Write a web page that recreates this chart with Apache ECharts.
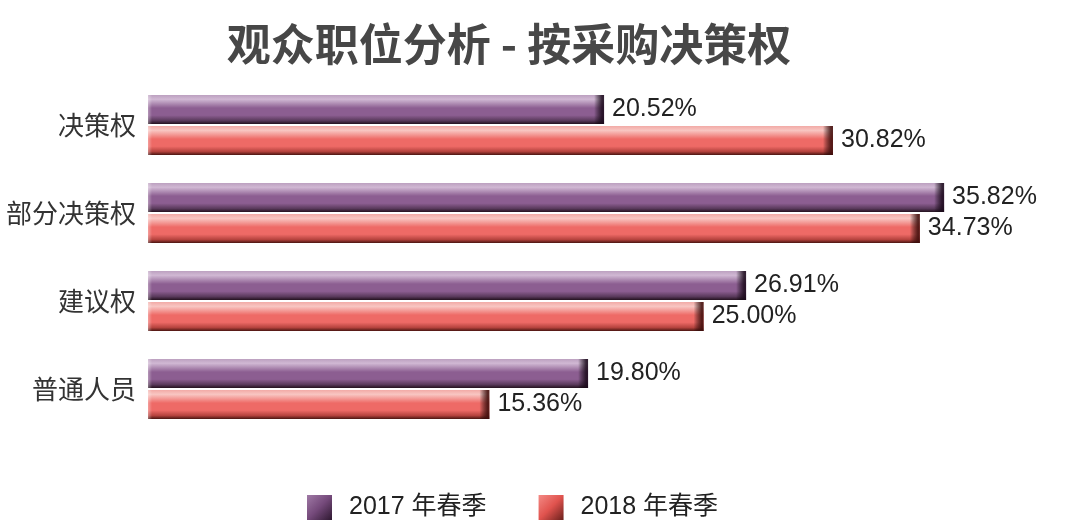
<!DOCTYPE html>
<html><head><meta charset="utf-8">
<script src="https://cdn.jsdelivr.net/npm/echarts@6/dist/echarts.min.js"></script>
<style>html,body{margin:0;padding:0;background:#fff}#c{width:1080px;height:532px}</style>
</head><body><div id="c"></div>
<script>
const categories = ['决策权', '部分决策权', '建议权', '普通人员'];
const series2017 = [20.52, 35.82, 26.91, 19.80];
const series2018 = [30.82, 34.73, 25.00, 15.36];
const seriesNames = ['2017 年春季', '2018 年春季'];
const titleText = '观众职位分析 - 按采购决策权';

function grad(top, hi, mid, low, bottom) {
  return new echarts.graphic.LinearGradient(0, 0, 0, 1, [
    {offset: 0, color: top},
    {offset: 0.15, color: hi},
    {offset: 0.45, color: mid},
    {offset: 0.7, color: mid},
    {offset: 0.88, color: low},
    {offset: 1, color: bottom}
  ]);
}
const purple = grad('#bca0c0', '#d0b8d3', '#8c5e91', '#5a3a5c', '#24121f');
const red = grad('#f2aaa6', '#f8c6c2', '#ee6a66', '#b5433e', '#4a1511');
const legPurple = new echarts.graphic.LinearGradient(0, 0, 1, 1, [
  {offset: 0, color: '#a07aa6'}, {offset: 0.5, color: '#74497a'}, {offset: 1, color: '#2e1830'}]);
const legRed = new echarts.graphic.LinearGradient(0, 0, 1, 1, [
  {offset: 0, color: '#f48a85'}, {offset: 0.5, color: '#e0534e'}, {offset: 1, color: '#6a201c'}]);

const BAR_W = 29;
function endCap(offsetY, darkColor) {
  return function (params, api) {
    const end = api.coord([api.value(0), api.value(1)]);
    const start = api.coord([0, api.value(1)]);
    const w = 10;
    const x = end[0] - w;
    const y = end[1] + offsetY - BAR_W / 2;
    return {
      type: 'group',
      children: [
        {type: 'rect', shape: {x: x, y: y, width: w, height: BAR_W},
         style: {fill: new echarts.graphic.LinearGradient(0, 0, 1, 0, [
           {offset: 0, color: 'rgba(0,0,0,0)'}, {offset: 0.8, color: darkColor}, {offset: 1, color: darkColor}])}},
        {type: 'rect', shape: {x: start[0], y: y, width: 4, height: BAR_W},
         style: {fill: new echarts.graphic.LinearGradient(0, 0, 1, 0, [
           {offset: 0, color: 'rgba(255,255,255,0.35)'}, {offset: 1, color: 'rgba(255,255,255,0)'}])}}
      ]
    };
  };
}

const chart = echarts.init(document.getElementById('c'));
const labelStyle = {
  show: true, position: 'right', distance: 8,
  fontFamily: 'Liberation Sans, Arial, sans-serif', fontSize: 25, color: '#222',
  formatter: p => p.value.toFixed(2) + '%'
};
chart.setOption({
  animation: false,
  backgroundColor: '#ffffff',
  title: {
    text: titleText, left: 504, top: 17, textAlign: 'center',
    textStyle: {fontFamily: 'Noto Sans CJK SC', fontWeight: 'bold', fontSize: 44, color: '#474747'}
  },
  legend: {
    bottom: 7, left: 302, itemWidth: 25, itemHeight: 25, itemGap: 52,
    icon: 'rect',
    textStyle: {fontFamily: 'Liberation Sans, Noto Sans CJK SC', fontSize: 25, color: '#222', padding: [0, 0, 0, 12]},
    data: [
      {name: seriesNames[0], itemStyle: {color: legPurple}},
      {name: seriesNames[1], itemStyle: {color: legRed}}
    ]
  },
  grid: {left: 148, right: 43, top: 81, bottom: 99, containLabel: false},
  xAxis: {type: 'value', min: 0, max: 40, show: false},
  yAxis: {
    type: 'category', data: categories, inverse: true,
    axisLine: {show: false}, axisTick: {show: false},
    axisLabel: {fontFamily: 'Noto Sans CJK SC', fontSize: 26, color: '#333', margin: 12}
  },
  series: [
    {name: seriesNames[0], type: 'bar', data: series2017, barWidth: BAR_W, barGap: '7%',
     itemStyle: {color: purple}, label: labelStyle},
    {name: seriesNames[1], type: 'bar', data: series2018, barWidth: BAR_W, barGap: '7%',
     itemStyle: {color: red}, label: labelStyle},
    {name: 'cap2017', type: 'custom', z: 5, silent: true,
     data: series2017.map((v, i) => [v, i]),
     encode: {x: 0, y: 1},
     renderItem: endCap(-15.5, 'rgba(25,8,25,0.85)')},
    {name: 'cap2018', type: 'custom', z: 5, silent: true,
     data: series2018.map((v, i) => [v, i]),
     encode: {x: 0, y: 1},
     renderItem: endCap(15.5, 'rgba(60,12,10,0.85)')}
  ]
});
</script></body></html>
